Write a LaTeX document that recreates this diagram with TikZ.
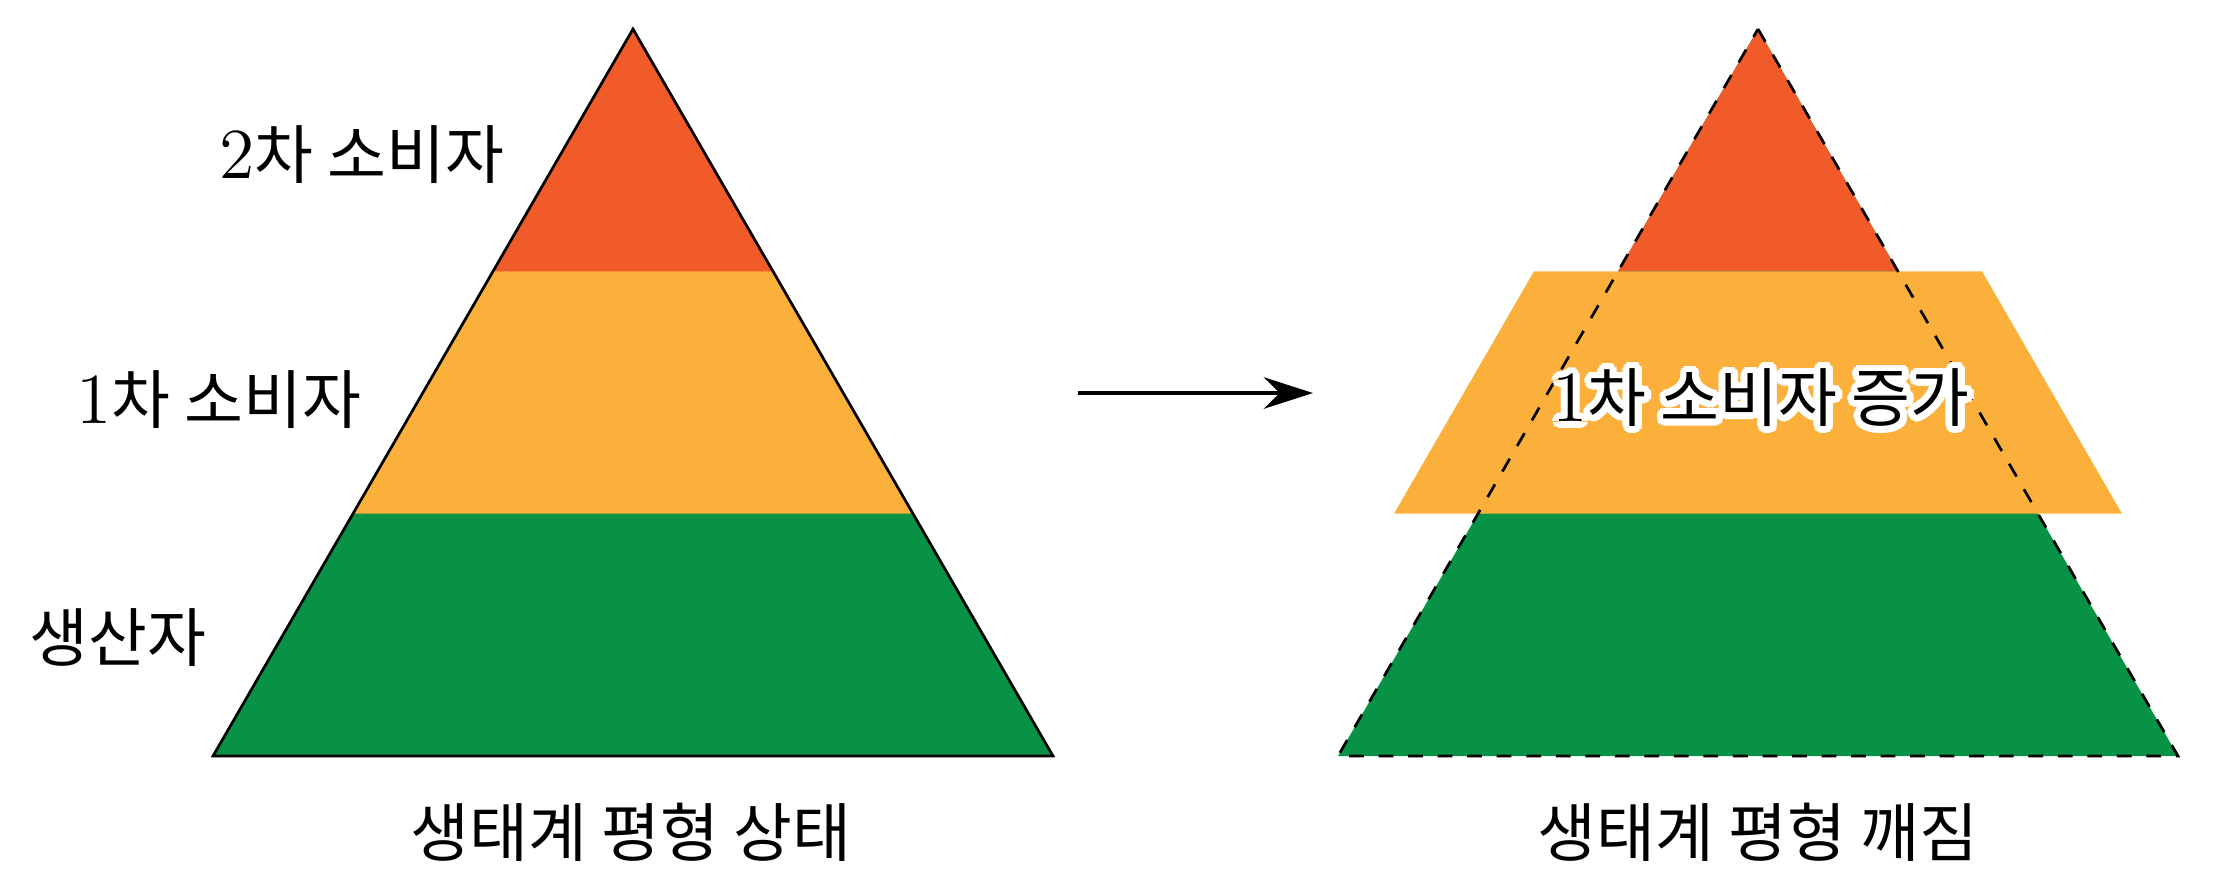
\documentclass[tikz,border=0pt]{standalone}
\usepackage{fontspec}
\newfontfamily\kr{Noto Sans CJK KR}
\usetikzlibrary{arrows.meta}
\definecolor{cred}{RGB}{241,90,41}
\definecolor{corange}{RGB}{251,176,59}
\definecolor{cgreen}{RGB}{8,146,69}
\newcommand{\dig}[1]{{\fontsize{14.6}{16}\selectfont #1}}
\begin{document}
\begin{tikzpicture}[x=0.0071429cm,y=-0.0071429cm,
  lbl/.style={inner sep=0pt, font=\fontsize{13}{15}\selectfont},
  outline/.style={line width=0.55pt, line join=miter},
  dashline/.style={line width=0.55pt, dashed, line join=miter}]
\useasboundingbox (0,0) rectangle (2214,890);
% left pyramid
\coordinate (LA) at (633,29);
\coordinate (LL) at (213,756);
\coordinate (LR) at (1053,756);
\fill[cgreen] (LA) -- (LR) -- (LL) -- cycle;
\fill[corange] (LA) -- (913,513.7) -- (353,513.7) -- cycle;
\fill[cred] (LA) -- (773,271.3) -- (493,271.3) -- cycle;
\draw[outline] (LA) -- (LR) -- (LL) -- cycle;
% right pyramid
\coordinate (RA) at (1758,29);
\coordinate (RL) at (1338,756);
\coordinate (RR) at (2178,756);
\fill[cgreen] (RA) -- (RR) -- (RL) -- cycle;
\fill[cred] (RA) -- (1898,271.3) -- (1618,271.3) -- cycle;
\fill[corange] (1534,271.3) -- (1982,271.3) -- (2122,513.7) -- (1394,513.7) -- cycle;
\draw[dashline] (RA) -- (RR) -- (RL) -- cycle;
% labels
\node[lbl, anchor=east] (l2) at (505,155) {\dig{2}{\kr 차 소비자}};
\node[lbl, anchor=east] (l1) at (362,400) {\dig{1}{\kr 차 소비자}};
\node[lbl, anchor=east] (l0) at (207,638) {\kr 생산자};
\node[lbl] (capL) at (631,832) {\kr 생태계 평형 상태};
\node[lbl] (capR) at (1758,832) {\kr 생태계 평형 깨짐};
% arrow
\coordinate (arS) at (1078,393);
\coordinate (arE) at (1313,393);
\draw[line width=0.65pt, -{Stealth[length=10pt,width=6.4pt]}] (arS) -- (arE);
% haloed text
\foreach \a in {0,20,...,340}
  \node[lbl, text=white, xshift={1.4pt*cos(\a)}, yshift={1.4pt*sin(\a)}] (halo\a) at (1761,398) {\dig{1}{\kr 차 소비자 증가}};
\node[lbl] (incr) at (1761,398) {\dig{1}{\kr 차 소비자 증가}};
\end{tikzpicture}
\end{document}
